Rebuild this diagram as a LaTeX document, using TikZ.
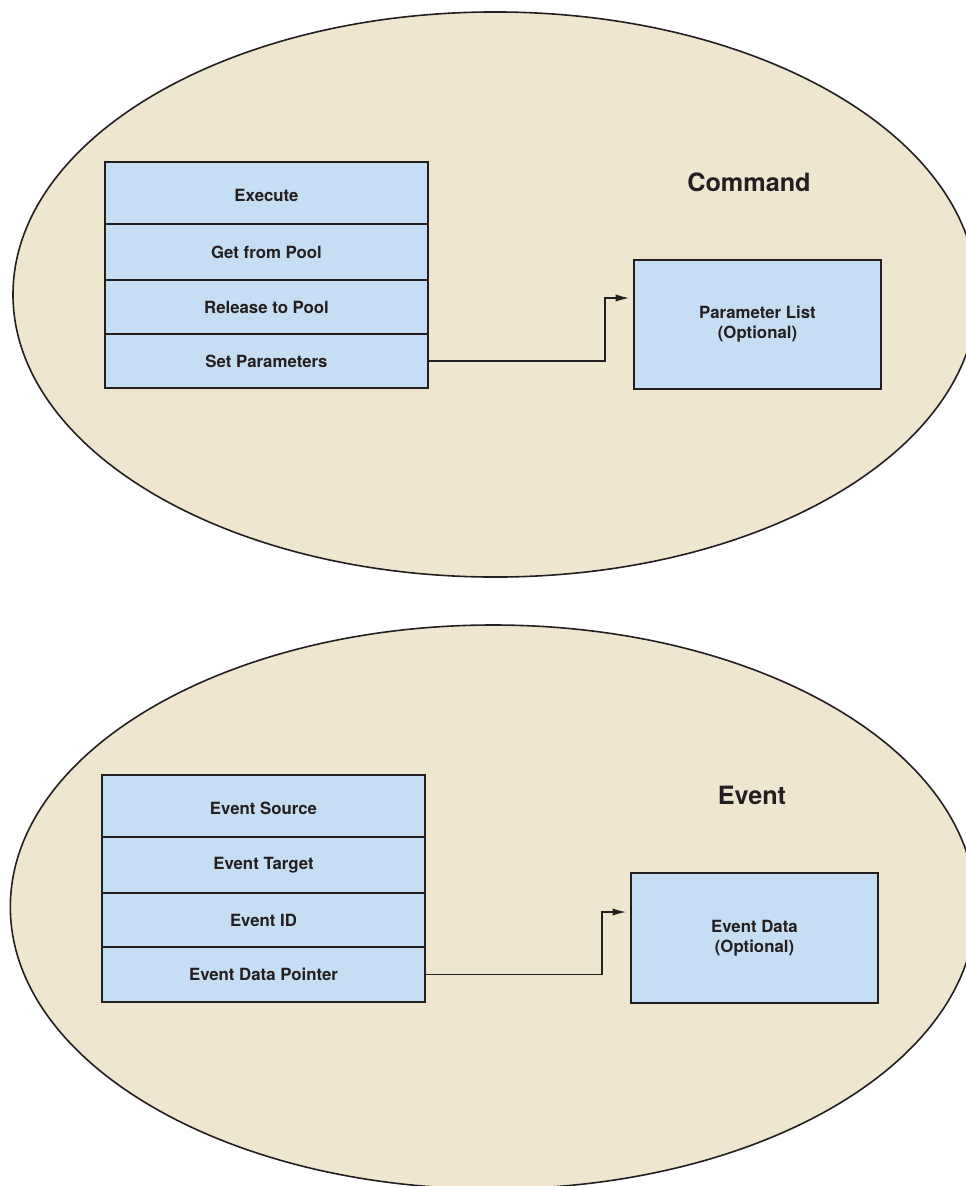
\documentclass[tikz,border=0pt]{standalone}
\usepackage{fontspec}
\setmainfont{TeX Gyre Heros}
\usetikzlibrary{arrows.meta}
\definecolor{shellfill}{RGB}{239,230,208}
\definecolor{cellfill}{RGB}{198,222,243}
\definecolor{inkline}{RGB}{35,31,32}
\tikzset{
  shell/.style={draw=inkline, line width=1.2pt, fill=shellfill},
  cell/.style={draw=inkline, line width=1.3pt, fill=cellfill, minimum width=242.25pt,
    inner sep=0pt, text=inkline, font=\fontsize{12.6}{15}\selectfont\bfseries},
  topcell/.style={cell, minimum height=46.5pt, text height=13pt, text depth=0pt},
  databox/.style={cell, minimum width=185.25pt, align=center},
  title/.style={inner sep=0pt, text=inkline, font=\fontsize{18.9}{22}\selectfont\bfseries},
  flow/.style={draw=inkline, line width=1pt, -{Latex[length=10pt,width=5.5pt]}}
}
\begin{document}
\begin{tikzpicture}[x=0.75pt,y=0.75pt,yscale=-1,xscale=1]
    \useasboundingbox (0,0) rectangle (965,1186);
    %Shape: Ellipse [command]
    \draw[shell] (495,294.5) ellipse [x radius=361.5pt, y radius=211.9pt];
    %Shape: Ellipse [event]
    \draw[shell] (493,907) ellipse [x radius=362pt, y radius=211.5pt];

    % Command stack
    \node[topcell] (execute) at (266.5,193) {Execute};
    \node[cell, minimum height=42pt] (getpool) at (266.5,252) {Get from Pool};
    \node[cell, minimum height=40.5pt] (relpool) at (266.5,307) {Release to Pool};
    \node[cell, minimum height=40.5pt] (setparams) at (266.5,361) {Set Parameters};
    % Text Node
    \node[title] (cmdtitle) at (749,182) {Command};
    \node[databox, minimum height=96.75pt] (paramlist) at (757.5,324.5) {Parameter List\\(Optional)};
    \coordinate (cmdtip) at (629,298);
    \draw[flow] (setparams.east) -- ++(176,0) |- (cmdtip);

    % Event stack
    \node[topcell] (evsource) at (263.5,806) {Event Source};
    \node[cell, minimum height=42pt] (evtarget) at (263.5,865) {Event Target};
    \node[cell, minimum height=40.5pt] (evid) at (263.5,920) {Event ID};
    \node[cell, minimum height=41.25pt] (evpointer) at (263.5,974.5) {Event Data Pointer};
    % Text Node
    \node[title] (evtitle) at (752,795) {Event};
    \node[databox, minimum height=97.5pt] (evdata) at (754.5,938) {Event Data\\(Optional)};
    \coordinate (evtip) at (626,912);
    \draw[flow] (evpointer.east) -- ++(176,0) |- (evtip);
\end{tikzpicture}
\end{document}
